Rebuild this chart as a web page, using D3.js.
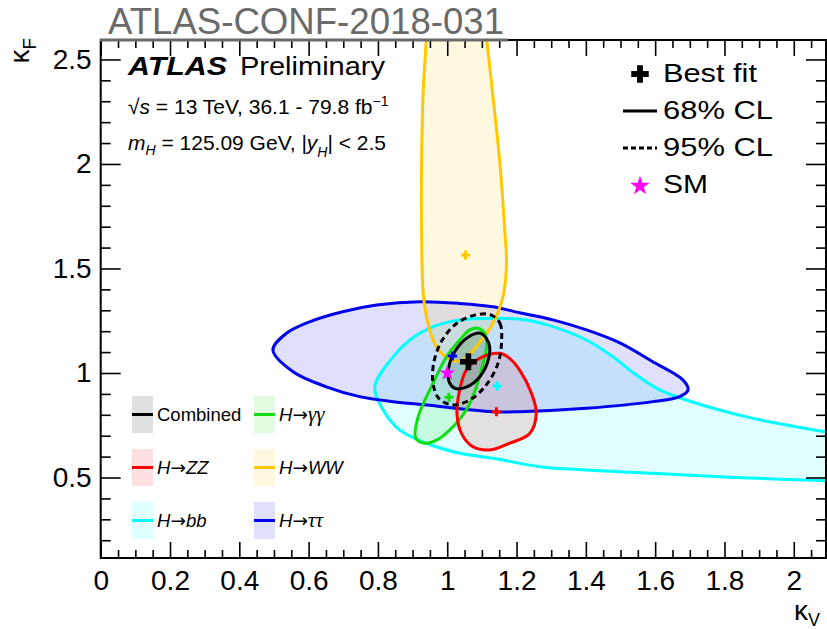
<!DOCTYPE html>
<html>
<head>
<meta charset="utf-8">
<script src="https://cdn.jsdelivr.net/npm/d3@7"></script>
<style>
  html, body { margin: 0; padding: 0; background: #fff; }
  svg { display: block; font-family: "Liberation Sans", Arial, Helvetica, sans-serif; }
</style>
</head>
<body>
<svg id="chart" width="827" height="629"></svg>
<script>
// ---- tick labels ----
const kVTicks = [0, 0.2, 0.4, 0.6, 0.8, 1, 1.2, 1.4, 1.6, 1.8, 2];
const kFTicks = [0.5, 1, 1.5, 2, 2.5];

// ---- likelihood contours, points as [kappa_V, kappa_F] ----
const contourBB = [
  [0.791, 0.934], [0.844, 1.078], [0.892, 1.158], [0.959, 1.222], [1.036, 1.254],
  [1.132, 1.262], [1.229, 1.254], [1.305, 1.222], [1.402, 1.158], [1.478, 1.078],
  [1.546, 0.990], [1.613, 0.919], [1.690, 0.871], [1.786, 0.823], [1.883, 0.783],
  [1.979, 0.751], [2.092, 0.719], [2.200, 0.700], [2.300, 0.680], [2.300, 0.470],
  [2.200, 0.476], [2.092, 0.485], [1.979, 0.491], [1.786, 0.504], [1.594, 0.520],
  [1.402, 0.536], [1.267, 0.552], [1.132, 0.592], [1.036, 0.616], [0.940, 0.664],
  [0.863, 0.727], [0.815, 0.823]
];
const contourTauTau = [
  [0.497, 1.110], [0.536, 1.190], [0.603, 1.245], [0.698, 1.293], [0.796, 1.325],
  [0.921, 1.341], [1.036, 1.333], [1.132, 1.317], [1.209, 1.288], [1.305, 1.254],
  [1.402, 1.206], [1.498, 1.144], [1.593, 1.054], [1.680, 0.967], [1.695, 0.919],
  [1.671, 0.887], [1.593, 0.863], [1.402, 0.831], [1.209, 0.815], [1.131, 0.815],
  [0.940, 0.847], [0.844, 0.863], [0.747, 0.887], [0.651, 0.934], [0.555, 1.006]
];
const contourWW = [
  [0.942, 2.689], [0.940, 2.609], [0.930, 2.322], [0.926, 2.003], [0.926, 1.684],
  [0.930, 1.397], [0.940, 1.269], [0.959, 1.158], [0.983, 1.094], [1.013, 1.062],
  [1.042, 1.057], [1.084, 1.126], [1.132, 1.238], [1.161, 1.365], [1.171, 1.525],
  [1.166, 1.684], [1.152, 2.003], [1.132, 2.322], [1.113, 2.609], [1.108, 2.689]
];
const contourGamGam = [
  [1.089, 1.214], [1.108, 1.190], [1.114, 1.134], [1.108, 1.078], [1.084, 0.934],
  [1.055, 0.823], [1.007, 0.727], [0.969, 0.679], [0.935, 0.664], [0.909, 0.689],
  [0.915, 0.785], [0.959, 0.951], [0.998, 1.078], [1.036, 1.158], [1.065, 1.206]
];
const contourZZ = [
  [1.152, 1.094], [1.180, 1.070], [1.209, 1.014], [1.243, 0.903], [1.257, 0.807],
  [1.238, 0.711], [1.180, 0.664], [1.123, 0.632], [1.074, 0.647], [1.041, 0.711],
  [1.028, 0.807], [1.036, 0.919], [1.055, 1.014], [1.103, 1.078]
];
const combined68 = [
  [1.096, 1.190], [1.120, 1.142], [1.120, 1.072], [1.094, 0.982], [1.055, 0.932],
  [1.022, 0.927], [1.006, 0.955], [1.004, 1.024], [1.023, 1.105], [1.059, 1.170]
];
const combined95 = [
  [1.126, 1.278], [1.152, 1.238], [1.157, 1.158], [1.146, 1.043], [1.108, 0.933],
  [1.065, 0.871], [1.016, 0.847], [0.975, 0.880], [0.959, 0.951], [0.961, 1.048],
  [0.984, 1.153], [1.027, 1.237], [1.082, 1.278]
];

// ---- best-fit points per channel ----
const channels  = ["Combined", "ZZ", "bb", "γγ", "WW", "ττ"];
const bestFitKV = [1.061, 1.142, 1.144, 1.005, 1.053, 1.015];
const bestFitKF = [1.054, 0.815, 0.938, 0.884, 1.565, 1.081];
const smPoint   = [1, 1];

// ---- styling ----
const colour = {
  "Combined": "#000000", "ZZ": "#ff0000", "bb": "#00ffff",
  "γγ": "#11dd11", "WW": "#ffc800", "ττ": "#0000ee"
};
const fillAlpha = 0.12;

const svg = d3.select("#chart");
svg.append("rect").attr("width", 827).attr("height", 629).attr("fill", "#fff");

const X0 = 100.7, X1 = 826, Y0 = 40, Y1 = 558;
const x = d3.scaleLinear().domain([0, 2.093]).range([X0, X1]);
const y = d3.scaleLinear().domain([0.115, 2.593]).range([Y1, Y0]);

svg.append("clipPath").attr("id", "plotClip")
  .append("rect").attr("x", X0).attr("y", Y0).attr("width", X1 - X0).attr("height", Y1 - Y0);

const plot = svg.append("g").attr("clip-path", "url(#plotClip)");
const closed = d3.line().curve(d3.curveCatmullRomClosed.alpha(0.5))
  .x(d => x(d[0])).y(d => y(d[1]));

const contours = [
  { key: "bb", pts: contourBB },
  { key: "ττ", pts: contourTauTau },
  { key: "WW", pts: contourWW },
  { key: "γγ", pts: contourGamGam },
  { key: "ZZ", pts: contourZZ }
];

// filled areas first
contours.forEach(c => {
  plot.append("path").attr("d", closed(c.pts))
    .attr("fill", colour[c.key]).attr("fill-opacity", fillAlpha).attr("stroke", "none");
});
plot.append("path").attr("d", closed(combined68))
  .attr("fill", "#000").attr("fill-opacity", fillAlpha).attr("stroke", "none");

// contour lines
contours.forEach(c => {
  plot.append("path").attr("d", closed(c.pts))
    .attr("fill", "none").attr("stroke", colour[c.key]).attr("stroke-width", 3);
});
plot.append("path").attr("d", closed(combined95))
  .attr("fill", "none").attr("stroke", "#000").attr("stroke-width", 3)
  .attr("stroke-dasharray", "6,4");
plot.append("path").attr("d", closed(combined68))
  .attr("fill", "none").attr("stroke", "#000").attr("stroke-width", 3);

// best-fit markers
const cross = d3.symbol().type(d3.symbolCross);
channels.forEach((ch, i) => {
  if (ch === "Combined") return;
  plot.append("path").attr("d", cross.size(45)())
    .attr("transform", `translate(${x(bestFitKV[i])},${y(bestFitKF[i])})`)
    .attr("fill", colour[ch]);
});
plot.append("path").attr("d", d3.symbol().type(d3.symbolStar).size(80)())
  .attr("transform", `translate(${x(smPoint[0])},${y(smPoint[1])})`)
  .attr("fill", "#ff00ff");
plot.append("path").attr("d", cross.size(160)())
  .attr("transform", `translate(${x(bestFitKV[0])},${y(bestFitKF[0])})`)
  .attr("fill", "#000");

// ---- axes ----
const fmt = d3.format("~g");
const minorV = d3.range(0.05, 2.1, 0.05).filter(v => Math.abs(v * 5 - Math.round(v * 5)) > 1e-6);
const minorF = d3.range(0.2, 2.6, 0.1).filter(v => Math.abs(v * 2 - Math.round(v * 2)) > 1e-6);

function styleAxis(g) {
  g.select(".domain").remove();
  g.selectAll(".tick line").attr("stroke", "#000").attr("stroke-width", 1.6);
  g.selectAll(".tick text").attr("font-size", 28).attr("fill", "#000")
    .attr("font-family", "'Liberation Sans', Arial, sans-serif");
}

svg.append("g").attr("transform", `translate(0,${Y1})`)
  .call(d3.axisBottom(x).tickValues(kVTicks).tickFormat(fmt)
    .tickSizeInner(-16).tickSizeOuter(0).tickPadding(12)).call(styleAxis);
svg.append("g").attr("transform", `translate(0,${Y1})`)
  .call(d3.axisBottom(x).tickValues(minorV).tickFormat("")
    .tickSizeInner(-8).tickSizeOuter(0)).call(styleAxis);
svg.append("g").attr("transform", `translate(0,${Y0})`)
  .call(d3.axisTop(x).tickValues(kVTicks).tickFormat("")
    .tickSizeInner(-16).tickSizeOuter(0)).call(styleAxis);
svg.append("g").attr("transform", `translate(0,${Y0})`)
  .call(d3.axisTop(x).tickValues(minorV).tickFormat("")
    .tickSizeInner(-8).tickSizeOuter(0)).call(styleAxis);

svg.append("g").attr("transform", `translate(${X0},0)`)
  .call(d3.axisLeft(y).tickValues(kFTicks).tickFormat(fmt)
    .tickSizeInner(-20).tickSizeOuter(0).tickPadding(9)).call(styleAxis);
svg.append("g").attr("transform", `translate(${X0},0)`)
  .call(d3.axisLeft(y).tickValues(minorF).tickFormat("")
    .tickSizeInner(-10).tickSizeOuter(0)).call(styleAxis);
svg.append("g").attr("transform", `translate(${X1},0)`)
  .call(d3.axisRight(y).tickValues(kFTicks).tickFormat("")
    .tickSizeInner(-20).tickSizeOuter(0)).call(styleAxis);
svg.append("g").attr("transform", `translate(${X1},0)`)
  .call(d3.axisRight(y).tickValues(minorF).tickFormat("")
    .tickSizeInner(-10).tickSizeOuter(0)).call(styleAxis);

svg.append("rect").attr("x", X0).attr("y", Y0).attr("width", X1 - X0).attr("height", Y1 - Y0)
  .attr("fill", "none").attr("stroke", "#000").attr("stroke-width", 2);

// axis titles
const kvLabel = svg.append("text").attr("x", 794).attr("y", 620).attr("font-size", 28).attr("fill", "#000");
kvLabel.append("tspan").text("κ");
kvLabel.append("tspan").attr("font-size", 18).attr("dy", 6).text("V");

const kfLabel = svg.append("text").attr("transform", "translate(29,38) rotate(-90)")
  .attr("text-anchor", "end").attr("font-size", 28).attr("fill", "#000");
kfLabel.append("tspan").text("κ");
kfLabel.append("tspan").attr("font-size", 19).attr("dy", 7).text("F");

// document tag above the frame
svg.append("text").attr("x", 108).attr("y", 34).attr("font-size", 36).attr("fill", "#6a6a6a")
  .attr("textLength", 396).attr("lengthAdjust", "spacingAndGlyphs")
  .text("ATLAS-CONF-2018-031");
svg.append("line").attr("x1", 100).attr("x2", 508).attr("y1", 40).attr("y2", 40)
  .attr("stroke", "#6a6a6a").attr("stroke-width", 3);

// ---- rich text helper ----
function rich(x0, y0, size, parts) {
  const t = svg.append("text").attr("x", x0).attr("y", y0).attr("font-size", size).attr("fill", "#000");
  parts.forEach(p => {
    const s = t.append("tspan").text(p.t);
    if (p.i) s.attr("font-style", "italic");
    if (p.ff) s.attr("font-family", p.ff);
    if (p.fs) s.attr("font-size", p.fs);
    if (p.dy) s.attr("dy", p.dy);
  });
  return t;
}

svg.append("text").attr("x", 128).attr("y", 75).attr("font-size", 26)
  .attr("font-weight", "bold").attr("font-style", "italic")
  .attr("textLength", 99).attr("lengthAdjust", "spacingAndGlyphs").text("ATLAS");
svg.append("text").attr("x", 240).attr("y", 75).attr("font-size", 26)
  .attr("textLength", 145).attr("lengthAdjust", "spacingAndGlyphs").text("Preliminary");

rich(128, 114, 21, [
  { t: "√" }, { t: "s", i: 1 }, { t: " = 13 TeV, 36.1 - 79.8 fb" },
  { t: "−1", fs: 14, dy: -8 }
]);
rich(128, 150, 21, [
  { t: "m", i: 1 }, { t: "H", i: 1, fs: 14, dy: 5 }, { t: " = 125.09 GeV, |", dy: -5 },
  { t: "y", i: 1 }, { t: "H", i: 1, fs: 14, dy: 7 }, { t: "| < 2.5", dy: -7 }
]);

// ---- top-right legend ----
svg.append("path").attr("d", cross.size(170)()).attr("transform", "translate(640,74)").attr("fill", "#000");
svg.append("text").attr("x", 663).attr("y", 82).attr("font-size", 25)
  .attr("textLength", 94).attr("lengthAdjust", "spacingAndGlyphs").text("Best fit");
svg.append("line").attr("x1", 623).attr("x2", 657).attr("y1", 111).attr("y2", 111)
  .attr("stroke", "#000").attr("stroke-width", 3);
svg.append("text").attr("x", 663).attr("y", 119).attr("font-size", 25)
  .attr("textLength", 110).attr("lengthAdjust", "spacingAndGlyphs").text("68% CL");
svg.append("line").attr("x1", 623).attr("x2", 657).attr("y1", 148).attr("y2", 148)
  .attr("stroke", "#000").attr("stroke-width", 3).attr("stroke-dasharray", "5,3");
svg.append("text").attr("x", 663).attr("y", 156).attr("font-size", 25)
  .attr("textLength", 110).attr("lengthAdjust", "spacingAndGlyphs").text("95% CL");
svg.append("path").attr("d", d3.symbol().type(d3.symbolStar).size(120)())
  .attr("transform", "translate(640,186)").attr("fill", "#ff00ff");
svg.append("text").attr("x", 663).attr("y", 193).attr("font-size", 25)
  .attr("textLength", 45).attr("lengthAdjust", "spacingAndGlyphs").text("SM");

// ---- channel legend ----
const serif = "'Liberation Serif', 'Times New Roman', serif";
const arrowFont = "'DejaVu Sans', sans-serif";
const legendItems = [
  { key: "Combined", col: 0, row: 0, parts: [{ t: "Combined" }] },
  { key: "γγ", col: 1, row: 0, parts: [{ t: "H", i: 1 }, { t: "→", ff: arrowFont }, { t: "γγ", i: 1, ff: serif, fs: 21 }] },
  { key: "ZZ", col: 0, row: 1, parts: [{ t: "H", i: 1 }, { t: "→", ff: arrowFont }, { t: "ZZ", i: 1 }] },
  { key: "WW", col: 1, row: 1, parts: [{ t: "H", i: 1 }, { t: "→", ff: arrowFont }, { t: "WW", i: 1 }] },
  { key: "bb", col: 0, row: 2, parts: [{ t: "H", i: 1 }, { t: "→", ff: arrowFont }, { t: "bb", i: 1 }] },
  { key: "ττ", col: 1, row: 2, parts: [{ t: "H", i: 1 }, { t: "→", ff: arrowFont }, { t: "ττ", i: 1, ff: serif, fs: 21 }] }
];
legendItems.forEach(it => {
  const sx = 132 + it.col * 122, cy = 414.5 + it.row * 53;
  svg.append("rect").attr("x", sx).attr("y", cy - 18.5).attr("width", 21).attr("height", 37)
    .attr("fill", colour[it.key]).attr("fill-opacity", fillAlpha);
  svg.append("line").attr("x1", sx).attr("x2", sx + 21).attr("y1", cy).attr("y2", cy)
    .attr("stroke", colour[it.key]).attr("stroke-width", 3);
  rich(sx + 25, cy + 6.5, 18.5, it.parts);
});
</script>
</body>
</html>
